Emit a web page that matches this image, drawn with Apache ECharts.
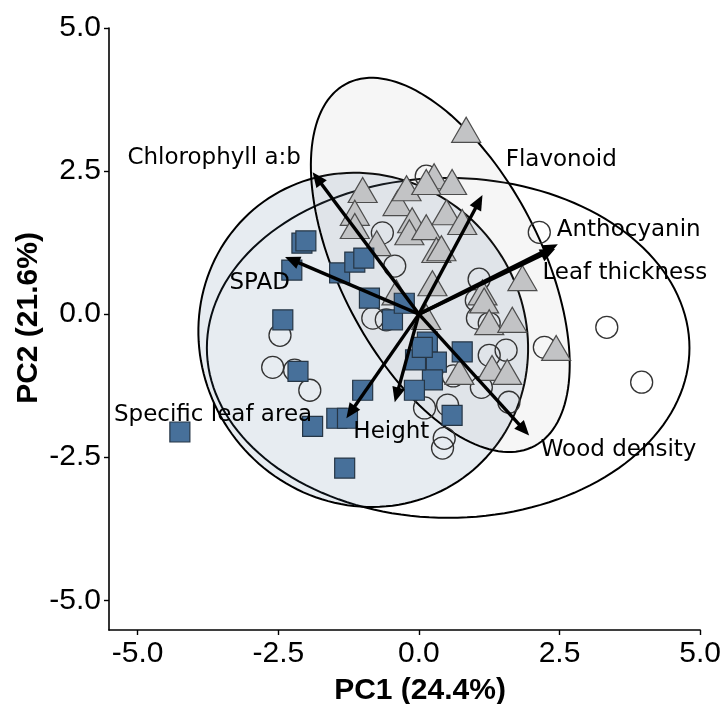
<!DOCTYPE html>
<html><head><meta charset="utf-8">
<script src="https://cdn.jsdelivr.net/npm/echarts/dist/echarts.min.js"></script>
<style>html,body{margin:0;padding:0;background:#fff}#c{width:724px;height:704px}</style>
</head><body><div id="c"></div>
<script>
// ---- tick labels ----
const xTicks = [-5, -2.5, 0, 2.5, 5];
const yTicks = [-5, -2.5, 0, 2.5, 5];
const xTitle = 'PC1 (24.4%)';
const yTitle = 'PC2 (21.6%)';

// ---- scores (PC1, PC2) per group ----
const circlePts = [
  [2.14, 1.43], [3.34, -0.23], [3.96, -1.19], [2.23, -0.58], [-2.60, -0.93],
  [-2.21, -0.98], [-1.94, -1.33], [-2.47, -0.37], [0.13, 2.41], [-0.65, 1.42],
  [-0.43, 0.84], [-0.82, -0.07], [-0.58, -0.10], [1.07, 0.61], [1.02, 0.24],
  [1.04, -0.07], [1.25, -0.16], [1.55, -0.63], [1.25, -0.72], [1.11, -1.28],
  [1.60, -1.54], [0.51, -1.59], [0.10, -1.64], [0.45, -2.17], [0.42, -2.34],
  [0.61, -1.08]
];
const trianglePts = [
  [0.84, 3.22], [-1.00, 2.17], [-1.14, 1.77], [-1.14, 1.54], [-0.75, 1.24],
  [-0.38, 1.94], [-0.22, 2.20], [-0.12, 1.64], [-0.17, 1.43], [0.13, 1.52],
  [0.31, 1.12], [0.40, 1.15], [0.27, 2.41], [0.59, 2.31], [0.13, 2.31],
  [0.49, 1.78], [0.77, 1.61], [0.24, 0.54], [-0.40, 0.38], [1.84, 0.63],
  [1.13, 0.38], [1.16, 0.24], [1.25, -0.14], [1.66, -0.10], [2.44, -0.59],
  [1.30, -0.94], [1.57, -1.01], [0.13, -0.05], [0.72, -1.01]
];
const squarePts = [
  [-4.25, -2.06], [-2.08, 1.24], [-2.01, 1.28], [-2.26, 0.77], [-2.42, -0.10],
  [-2.15, -1.00], [-1.89, -1.96], [-1.32, -2.69], [-1.46, -1.82], [-1.27, -1.82],
  [-1.00, -1.33], [-1.41, 0.72], [-1.14, 0.91], [-0.98, 0.98], [-0.88, 0.28],
  [-0.47, -0.10], [-0.26, 0.19], [0.15, -0.49], [0.31, -0.84], [0.24, -1.15],
  [-0.08, -1.33], [0.77, -0.66], [0.59, -1.77], [-0.06, -0.80], [0.06, -0.58]
];

// ---- loadings (arrow tips) ----
const loadingNames = ['Chlorophyll a:b', 'SPAD', 'Flavonoid', 'Anthocyanin', 'Leaf thickness', 'Wood density', 'Height', 'Specific leaf area'];
const loadingX = [-1.89, -2.38, 1.13, 2.47, 2.42, 1.96, -0.43, -1.29];
const loadingY = [2.48, 1.00, 2.08, 1.22, 1.14, -2.12, -1.54, -1.82];
const labelX = [-3.64, -2.83, 2.53, 3.73, 3.66, 3.55, -0.49, -3.66];
const labelY = [2.73, 0.54, 2.69, 1.47, 0.72, -2.38, -2.06, -1.77];

// ---- group confidence ellipses ----
const ellipseGroups = ['circle', 'square', 'triangle'];
const ellipseCX = [0.52, -0.99, 0.38];
const ellipseCY = [-0.59, -0.45, 0.86];
const ellipseA = [4.29, 3.00, 3.58];
const ellipseB = [2.97, 2.85, 1.78];
const ellipseAngle = [0, -43, -62];

const ellipseFill = ['rgba(255,255,255,0.25)', 'rgba(70,110,150,0.13)', 'rgba(150,150,150,0.09)'];

const chart = echarts.init(document.getElementById('c'), null, {renderer: 'canvas'});

const ellipseData = ellipseGroups.map((g, i) => [ellipseCX[i], ellipseCY[i], ellipseA[i], ellipseB[i], ellipseAngle[i]]);
const arrowData = loadingNames.map((n, i) => [loadingX[i], loadingY[i]]);
const labelData = loadingNames.map((n, i) => [labelX[i], labelY[i]]);

const axisCommon = {
  type: 'value',
  splitLine: {show: false},
  axisLine: {show: true, onZero: false, lineStyle: {color: '#000', width: 1.6}},
  axisTick: {show: true, length: 5, lineStyle: {color: '#000', width: 1.4}},
  axisLabel: {fontSize: 30, fontFamily: 'Liberation Sans', color: '#000', formatter: v => v.toFixed(1)}
};

chart.setOption({
  backgroundColor: '#fff',
  animation: false,
  grid: {left: 109, right: 22, top: 28, bottom: 74, containLabel: false},
  xAxis: Object.assign({}, axisCommon, {
    min: -5.51, max: 5,
    axisTick: Object.assign({}, axisCommon.axisTick, {customValues: xTicks}),
    axisLabel: Object.assign({}, axisCommon.axisLabel, {customValues: xTicks, margin: 9})
  }),
  yAxis: Object.assign({}, axisCommon, {
    min: -5.52, max: 5,
    axisTick: Object.assign({}, axisCommon.axisTick, {customValues: yTicks}),
    axisLabel: Object.assign({}, axisCommon.axisLabel, {customValues: yTicks, margin: 8})
  }),
  graphic: [
    {type: 'text', x: 420, y: 691, style: {text: xTitle, font: 'bold 30px "Liberation Sans"', fill: '#000', align: 'center', verticalAlign: 'middle'}},
    {type: 'text', x: 29, y: 318, rotation: Math.PI / 2, style: {text: yTitle, font: 'bold 30px "Liberation Sans"', fill: '#000', align: 'center', verticalAlign: 'middle'}}
  ],
  series: [
    {
      type: 'custom', z: 1, data: ellipseData, encode: {x: 0, y: 1}, clip: false,
      renderItem: function (params, api) {
        const i = params.dataIndex;
        const cx = api.value(0), cy = api.value(1), a = api.value(2), b = api.value(3);
        const ang = api.value(4) * Math.PI / 180;
        const pts = [];
        for (let k = 0; k <= 160; k++) {
          const t = k / 160 * 2 * Math.PI;
          const ex = a * Math.cos(t), ey = b * Math.sin(t);
          pts.push(api.coord([cx + ex * Math.cos(ang) - ey * Math.sin(ang), cy + ex * Math.sin(ang) + ey * Math.cos(ang)]));
        }
        return {type: 'polygon', shape: {points: pts}, style: {fill: ellipseFill[i], stroke: '#000', lineWidth: 2}};
      }
    },
    {
      type: 'scatter', z: 2, data: circlePts, symbol: 'circle', symbolSize: 22,
      itemStyle: {color: 'rgba(255,255,255,0)', borderColor: '#333', borderWidth: 1.3, opacity: 1}
    },
    {
      type: 'scatter', z: 3, data: trianglePts, symbol: 'triangle', symbolSize: [29, 25],
      itemStyle: {color: '#c2c3c5', borderColor: '#4d4d4d', borderWidth: 1.2, opacity: 1}
    },
    {
      type: 'scatter', z: 4, data: squarePts, symbol: 'rect', symbolSize: 20,
      itemStyle: {color: '#47709a', borderColor: '#263646', borderWidth: 1.2, opacity: 1}
    },
    {
      type: 'custom', z: 5, data: arrowData, encode: {x: 0, y: 1}, clip: false,
      renderItem: function (params, api) {
        const p0 = api.coord([0, 0]);
        const p1 = api.coord([api.value(0), api.value(1)]);
        const dx = p1[0] - p0[0], dy = p1[1] - p0[1];
        const L = Math.hypot(dx, dy), ux = dx / L, uy = dy / L;
        const hl = 15, hw = 6.5;
        const bx = p1[0] - ux * hl, by = p1[1] - uy * hl;
        return {type: 'group', children: [
          {type: 'line', shape: {x1: p0[0], y1: p0[1], x2: bx + ux * 3, y2: by + uy * 3}, style: {stroke: '#000', lineWidth: 3.4}},
          {type: 'polygon', shape: {points: [p1, [bx - uy * hw, by + ux * hw], [bx + uy * hw, by - ux * hw]]}, style: {fill: '#000'}}
        ]};
      }
    },
    {
      type: 'custom', z: 6, data: labelData, encode: {x: 0, y: 1}, clip: false,
      renderItem: function (params, api) {
        const p = api.coord([api.value(0), api.value(1)]);
        return {type: 'text', x: p[0], y: p[1], style: {text: loadingNames[params.dataIndex], fontSize: 23, fontFamily: 'DejaVu Sans', fill: '#000', align: 'center', verticalAlign: 'middle'}};
      }
    }
  ]
});
</script>
</body></html>
